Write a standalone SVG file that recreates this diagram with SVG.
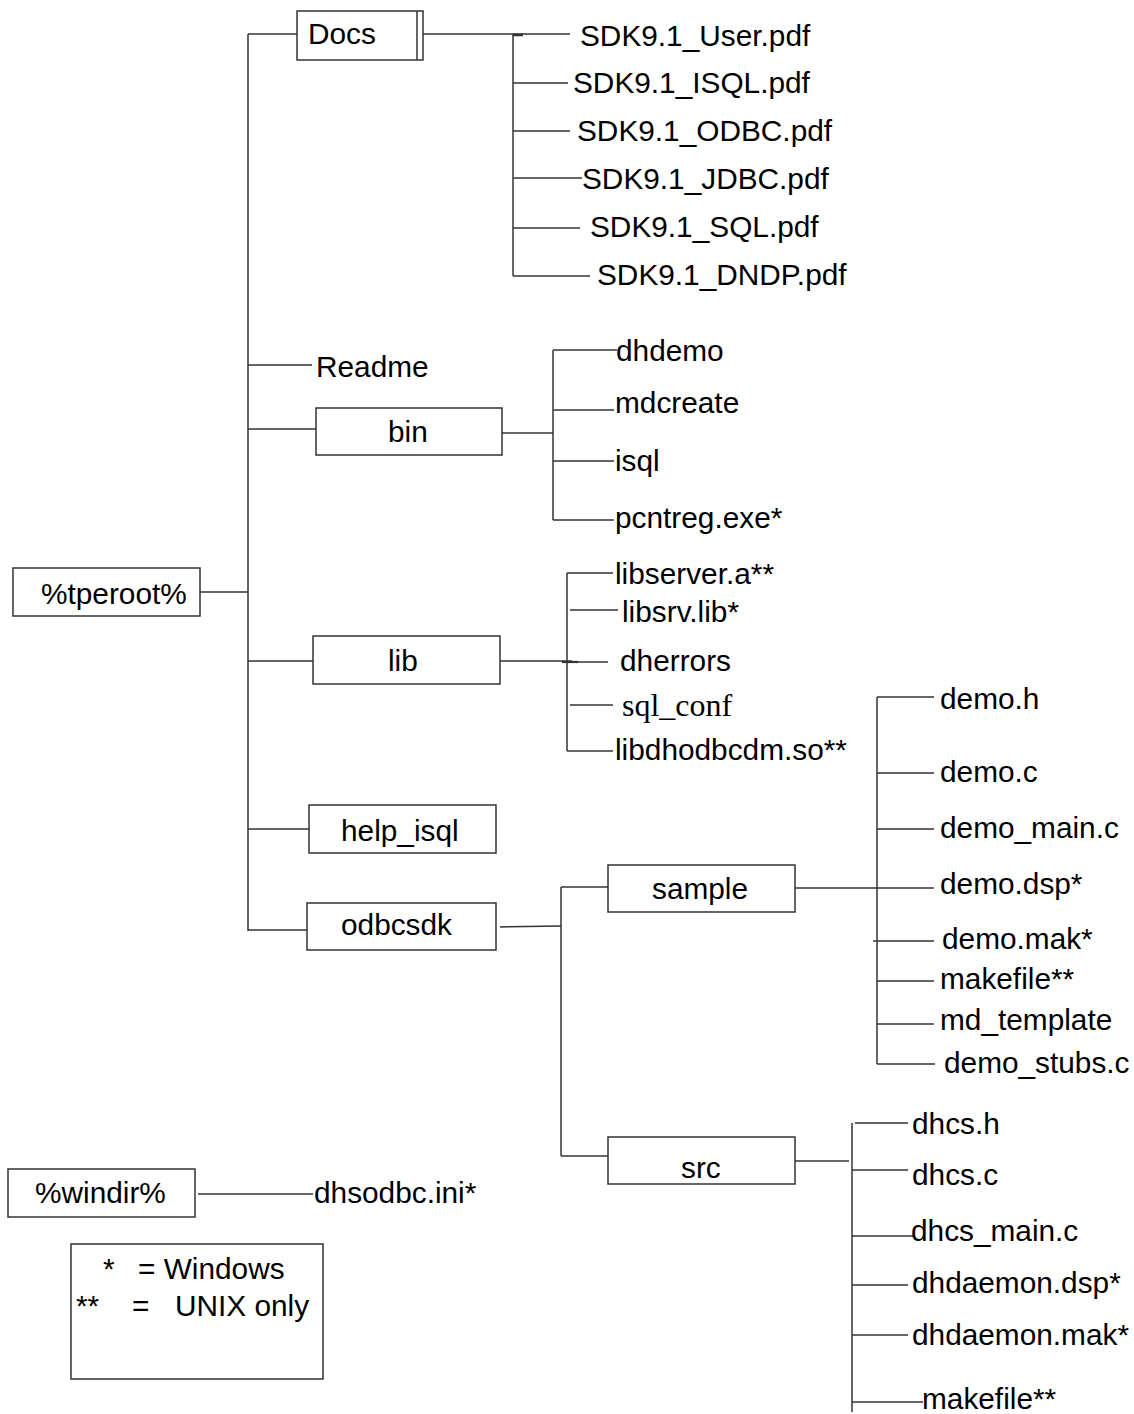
<svg xmlns="http://www.w3.org/2000/svg" width="1134" height="1414" viewBox="0 0 1134 1414">
  <style>
    .box { fill: #ffffff; stroke: #333333; stroke-width: 1.5; }
    .ln { fill: none; stroke: #333333; stroke-width: 1.5; }
    text { font-family: "Liberation Sans", Arial, sans-serif; font-size: 29.8px; fill: #000000; }
    text.serif { font-family: "Liberation Serif", "Times New Roman", serif; font-size: 32px; }
  </style>
  <rect width="1134" height="1414" fill="#ffffff"/>

  <!-- tree connectors -->
  <g id="connectors" class="ln">
    <!-- main trunk under %tperoot% -->
    <line x1="248" y1="34" x2="248" y2="931"/>
    <line x1="200" y1="592" x2="248" y2="592"/>
    <line x1="248" y1="34" x2="297" y2="34"/>
    <line x1="248" y1="365" x2="312" y2="365"/>
    <line x1="248" y1="429" x2="316" y2="429"/>
    <line x1="248" y1="661" x2="313" y2="661"/>
    <line x1="248" y1="829" x2="309" y2="829"/>
    <line x1="248" y1="930" x2="307" y2="930"/>

    <!-- Docs -->
    <line x1="423" y1="34" x2="570" y2="34"/>
    <line x1="513" y1="35" x2="523" y2="35" stroke-width="2.5"/>
    <line x1="513" y1="34" x2="513" y2="276"/>
    <line x1="513" y1="83" x2="568" y2="83"/>
    <line x1="513" y1="131" x2="570" y2="131"/>
    <line x1="513" y1="178" x2="582" y2="178"/>
    <line x1="513" y1="228" x2="580" y2="228"/>
    <line x1="513" y1="276" x2="590" y2="276"/>

    <!-- bin -->
    <line x1="502" y1="433" x2="553" y2="433"/>
    <line x1="553" y1="350" x2="553" y2="520"/>
    <line x1="553" y1="350" x2="617" y2="350"/>
    <line x1="553" y1="410" x2="614" y2="410"/>
    <line x1="553" y1="461" x2="614" y2="461"/>
    <line x1="553" y1="520" x2="614" y2="520"/>

    <!-- lib -->
    <line x1="500" y1="661" x2="572" y2="661"/>
    <line x1="562" y1="662" x2="578" y2="662" stroke-width="2.2"/>
    <line x1="567" y1="573" x2="567" y2="751"/>
    <line x1="567" y1="573" x2="613" y2="573"/>
    <line x1="570" y1="610" x2="618" y2="610"/>
    <line x1="567" y1="662" x2="608" y2="662"/>
    <line x1="570" y1="705" x2="613" y2="705"/>
    <line x1="567" y1="751" x2="613" y2="751"/>

    <!-- odbcsdk -->
    <line x1="500" y1="927" x2="561" y2="926"/>
    <line x1="561" y1="887" x2="561" y2="1156"/>
    <line x1="561" y1="887" x2="608" y2="887"/>
    <line x1="561" y1="1156" x2="608" y2="1156"/>

    <!-- sample -->
    <line x1="795" y1="888" x2="877" y2="888"/>
    <line x1="877" y1="697" x2="877" y2="1064"/>
    <line x1="877" y1="697" x2="934" y2="697"/>
    <line x1="877" y1="773" x2="934" y2="773"/>
    <line x1="877" y1="829" x2="934" y2="829"/>
    <line x1="877" y1="888" x2="934" y2="888"/>
    <line x1="873" y1="941" x2="934" y2="941"/>
    <line x1="877" y1="981" x2="934" y2="981"/>
    <line x1="877" y1="1024" x2="934" y2="1024"/>
    <line x1="877" y1="1064" x2="935" y2="1064"/>

    <!-- src -->
    <line x1="795" y1="1161" x2="849" y2="1161"/>
    <line x1="852" y1="1123" x2="852" y2="1412"/>
    <line x1="855" y1="1123" x2="908" y2="1123"/>
    <line x1="852" y1="1170" x2="908" y2="1170"/>
    <line x1="852" y1="1236" x2="915" y2="1236"/>
    <line x1="852" y1="1285" x2="908" y2="1285"/>
    <line x1="852" y1="1335" x2="908" y2="1335"/>
    <line x1="852" y1="1402" x2="923" y2="1402"/>

    <!-- %windir% -->
    <line x1="198" y1="1194" x2="313" y2="1194"/>
  </g>

  <!-- folder nodes -->
  <g id="node-tperoot">
    <rect class="box" x="13" y="568" width="187" height="48"/>
    <text x="41" y="604">%tperoot%</text>
  </g>
  <g id="node-docs">
    <rect class="box" x="297" y="11" width="126" height="49"/>
    <line class="ln" x1="417" y1="11" x2="417" y2="60"/>
    <text x="308" y="44">Docs</text>
  </g>
  <g id="node-bin">
    <rect class="box" x="316" y="408" width="186" height="47"/>
    <text x="388" y="442">bin</text>
  </g>
  <g id="node-lib">
    <rect class="box" x="313" y="636" width="187" height="48"/>
    <text x="388" y="671">lib</text>
  </g>
  <g id="node-help_isql">
    <rect class="box" x="309" y="805" width="187" height="48"/>
    <text x="341" y="841">help_isql</text>
  </g>
  <g id="node-odbcsdk">
    <rect class="box" x="307" y="903" width="189" height="47"/>
    <text x="341" y="935">odbcsdk</text>
  </g>
  <g id="node-sample">
    <rect class="box" x="608" y="865" width="187" height="47"/>
    <text x="652" y="899">sample</text>
  </g>
  <g id="node-src">
    <rect class="box" x="608" y="1137" width="187" height="47"/>
    <text x="681" y="1178">src</text>
  </g>
  <g id="node-windir">
    <rect class="box" x="8" y="1169" width="187" height="48"/>
    <text x="35" y="1203">%windir%</text>
  </g>

  <!-- file leaves -->
  <g id="node-readme"><text x="316" y="377">Readme</text></g>

  <g id="node-docs-files">
    <text x="580" y="46">SDK9.1_User.pdf</text>
    <text x="573" y="93">SDK9.1_ISQL.pdf</text>
    <text x="577" y="141">SDK9.1_ODBC.pdf</text>
    <text x="582" y="189">SDK9.1_JDBC.pdf</text>
    <text x="590" y="237">SDK9.1_SQL.pdf</text>
    <text x="597" y="285">SDK9.1_DNDP.pdf</text>
  </g>

  <g id="node-bin-files">
    <text x="616" y="361">dhdemo</text>
    <text x="615" y="413">mdcreate</text>
    <text x="615" y="471">isql</text>
    <text x="615" y="528">pcntreg.exe*</text>
  </g>

  <g id="node-lib-files">
    <text x="615" y="584">libserver.a**</text>
    <text x="622" y="622">libsrv.lib*</text>
    <text x="620" y="671">dherrors</text>
    <text class="serif" x="622" y="716">sql_conf</text>
    <text x="615" y="760">libdhodbcdm.so**</text>
  </g>

  <g id="node-sample-files">
    <text x="940" y="709">demo.h</text>
    <text x="940" y="782">demo.c</text>
    <text x="940" y="838">demo_main.c</text>
    <text x="940" y="894">demo.dsp*</text>
    <text x="942" y="949">demo.mak*</text>
    <text x="940" y="989">makefile**</text>
    <text x="940" y="1030">md_template</text>
    <text x="944" y="1073">demo_stubs.c</text>
  </g>

  <g id="node-src-files">
    <text x="912" y="1134">dhcs.h</text>
    <text x="912" y="1185">dhcs.c</text>
    <text x="911" y="1241">dhcs_main.c</text>
    <text x="912" y="1293">dhdaemon.dsp*</text>
    <text x="912" y="1345">dhdaemon.mak*</text>
    <text x="922" y="1409">makefile**</text>
  </g>

  <g id="node-dhsodbc"><text x="314" y="1203">dhsodbc.ini*</text></g>

  <!-- legend -->
  <g id="legend">
    <rect class="box" x="71" y="1244" width="252" height="135"/>
    <text x="103" y="1279">*</text>
    <text x="138" y="1279">= Windows</text>
    <text x="76" y="1316">**</text>
    <text x="132" y="1316">=</text>
    <text x="175" y="1316">UNIX only</text>
  </g>
</svg>
